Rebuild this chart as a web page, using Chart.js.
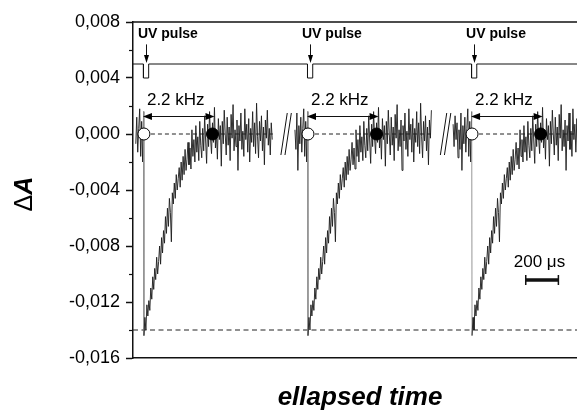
<!DOCTYPE html>
<html>
<head>
<meta charset="utf-8">
<script src="https://cdn.jsdelivr.net/npm/chart.js@4.4.0/dist/chart.umd.min.js"></script>
<style>
  html, body { margin: 0; padding: 0; background: #fff; }
  #wrap { width: 577px; height: 410px; position: relative; }
</style>
</head>
<body>
<div id="wrap"><canvas id="chart"></canvas></div>
<script>
// time in microseconds, absorbance change stored in units of 0.001
const yTickValues = [-0.016, -0.014, -0.012, -0.010, -0.008, -0.006, -0.004, -0.002, 0.000, 0.002, 0.004, 0.006, 0.008]
const xMax = 2720
const dropTimes = [67, 1072, 2077]      // UV pulse hits, one per trace
const traceStart = [-50, -82, -116]     // trace window, relative to the pulse
const traceEnd = [790, 760, 700]
const pulseWidth = 32
const recoveryDelay = 420               // 2.2 kHz marker
const breakTimes = [937, 1914]
const pulseLevel = 0.005
const pulseLow = 0.004
const saturationLevel = -0.014
const scaleBarLength = 200
const step = 6

// noise before the pulse, t = -116 .. -2 us
const preNoise = [0.7, -0.9, 1.3, -0.4, 0.8, -1.7, 0.3, -1.1, 1.5, -2.6, 0.6, -0.7, 1.2, -1.3, 0.4, 1.8, -1.6, 0.9, -2.0, 1.6]
// bleach and recovery after the pulse, t = 0 .. 786 us
const decay = [
  -14.4, -13.1, -14.0, -12.2, -13.0, -11.9, -12.6, -11.0, -11.8, -10.2,
  -11.1, -9.6, -10.4, -8.8, -10.0, -9.1, -8.0, -9.3, -7.4, -8.5,
  -6.9, -7.8, -5.9, -7.1, -5.3, -6.6, -4.6, -5.6, -7.7, -4.2,
  -5.0, -3.5, -4.6, -2.9, -4.0, -3.2, -2.4, -3.8, -2.0, -3.3,
  -1.6, -2.9, -1.1, -2.6, -1.8, -0.6, -2.2, -1.0, -2.5, 0.3,
  -1.6, -0.4, -2.0, 0.6, -1.3, -0.2, -1.9, 0.9, -0.8, -1.7,
  0.4, -1.2, 1.3, -0.5, -2.1, 0.7, -0.9, 1.6, -0.3, -1.4,
  0.8, -0.6, 1.9, -1.0, 0.2, -1.8, 1.1, -0.4, 0.6, -2.3,
  0.9, -0.7, 1.7, 0.0, -1.5, 1.2, -0.8, 0.5, -1.9, 1.4,
  -0.3, 2.1, -1.2, 0.3, -0.9, 1.0, -2.6, 0.6, -0.5, 1.5,
  -1.1, 0.2, -1.6, 1.8, -0.4, 0.7, -1.3, 1.1, -2.0, 0.4,
  -0.6, 1.6, -0.9, 0.8, -1.4, 2.2, -0.2, -1.7, 0.9, -0.5,
  1.3, -1.2, 0.5, -2.2, 1.0, -0.3, 1.7, -0.8, 0.4, -1.5,
  0.8, -0.4
]

const FONT = '"Liberation Sans", Arial, Helvetica, sans-serif'

function tracePoints(k) {
  const t0 = dropTimes[k]
  const pts = []
  preNoise.forEach((v, i) => {
    const t = -2 - (preNoise.length - 1 - i) * step
    if (t >= traceStart[k]) pts.push({ x: t0 + t, y: v / 1000 })
  })
  decay.forEach((v, i) => {
    const t = i * step
    if (t <= traceEnd[k]) pts.push({ x: t0 + t, y: v / 1000 })
  })
  return pts
}

function pulsePoints() {
  const pts = [{ x: 0, y: pulseLevel }]
  dropTimes.forEach(t => {
    const a = t - 3
    const b = a + pulseWidth
    pts.push({ x: a, y: pulseLevel }, { x: a, y: pulseLow }, { x: b, y: pulseLow }, { x: b, y: pulseLevel })
  })
  pts.push({ x: xMax, y: pulseLevel })
  return pts
}

function line(data, opts) {
  return Object.assign({ data, showLine: true, pointRadius: 0, borderColor: '#111', borderWidth: 1, fill: false }, opts)
}

// later entries are drawn on top
const datasets = []
datasets.push(line(pulsePoints(), { order: 9 }))
datasets.push(line([{ x: 0, y: saturationLevel }, { x: xMax, y: saturationLevel }], { borderDash: [5, 3.5], borderColor: '#222', order: 8 }))
dropTimes.forEach((t, k) => {
  datasets.push(line([{ x: t, y: 0 }, { x: t + traceEnd[k], y: 0 }], { borderDash: [4, 3], borderColor: '#222', order: 7 }))
})
dropTimes.forEach((t, k) => {
  datasets.push(line(tracePoints(k), {
    borderColor: '#1c1c1c', borderWidth: 0.9, order: 5,
    segment: { borderColor: c => Math.abs(c.p1.y - c.p0.y) > 100 ? '#8a8a8a' : undefined }
  }))
})
breakTimes.forEach(c => {
  datasets.push(line([{ x: c - 31, y: -0.0015 }, { x: c + 8, y: 0.0015 }], { order: 4 }))
  datasets.push(line([{ x: c - 6, y: -0.0015 }, { x: c + 33, y: 0.0015 }], { order: 4 }))
})
datasets.push({
  data: dropTimes.map(t => ({ x: t, y: 0 })), order: 1,
  pointRadius: 6, pointBackgroundColor: '#fff', pointBorderColor: '#000', pointBorderWidth: 1, showLine: false
})
datasets.push({
  data: dropTimes.map(t => ({ x: t + recoveryDelay, y: 0 })), order: 1,
  pointRadius: 6, pointBackgroundColor: '#000', pointBorderColor: '#000', pointBorderWidth: 1, showLine: false
})

const isMajor = v => Math.round(v / 0.002) % 2 === 0
const fmt = v => (Math.abs(v) < 1e-9 ? 0 : v).toFixed(3).replace('.', ',')

function arrowHead(ctx, x, y, dx, dy, len, half) {
  // tip at (x,y), pointing along (dx,dy)
  const bx = x - dx * len, by = y - dy * len
  ctx.beginPath()
  ctx.moveTo(x, y)
  ctx.lineTo(bx - dy * half, by + dx * half)
  ctx.lineTo(bx + dy * half, by - dx * half)
  ctx.closePath()
  ctx.fill()
}

const decorations = {
  id: 'decorations',
  afterDraw(chart) {
    const { ctx, chartArea: a, scales: { x, y } } = chart
    const X = v => x.getPixelForValue(v)
    const Y = v => y.getPixelForValue(v)
    ctx.save()
    ctx.fillStyle = '#000'
    ctx.strokeStyle = '#111'

    // top frame
    ctx.lineWidth = 1.5
    ctx.beginPath(); ctx.moveTo(a.left, a.top); ctx.lineTo(a.right, a.top); ctx.stroke()

    // minor ticks
    ctx.lineWidth = 1.2
    yTickValues.filter(v => !isMajor(v)).forEach(v => {
      const py = Math.round(Y(v)) + 0.5
      ctx.beginPath(); ctx.moveTo(a.left - 4, py); ctx.lineTo(a.left, py); ctx.stroke()
    })

    ctx.lineWidth = 1
    dropTimes.forEach(t => {
      const px = X(t)
      // UV pulse label + arrow
      ctx.font = 'bold 14px ' + FONT
      ctx.textAlign = 'left'
      ctx.textBaseline = 'alphabetic'
      ctx.fillText('UV pulse', px - 6, Y(0.00686))
      const ax = Math.round(X(t + 10)) + 0.5
      ctx.beginPath(); ctx.moveTo(ax, Y(0.0064)); ctx.lineTo(ax, Y(0.0053)); ctx.stroke()
      arrowHead(ctx, ax, Y(0.00507), 0, 1, 8, 2.5)

      // 2.2 kHz label + double arrow
      ctx.font = '17px ' + FONT
      ctx.fillText('2.2 kHz', px + 3, Y(0.00207))
      const ay = Math.round(Y(0.00129)) + 0.5
      const x1 = px - 1, x2 = X(t + recoveryDelay) + 2
      ctx.beginPath(); ctx.moveTo(x1 + 6, ay); ctx.lineTo(x2 - 6, ay); ctx.stroke()
      arrowHead(ctx, x1, ay, -1, 0, 9, 3.5)
      arrowHead(ctx, x2, ay, 1, 0, 9, 3.5)
    })

    // scale bar
    const sb0 = X(2406), sb1 = X(2406 + scaleBarLength), sby = Y(-0.01043)
    ctx.font = '17px ' + FONT
    ctx.fillText('200 \u03bcs', sb0 - 12, Y(-0.0095))
    ctx.lineWidth = 3.5
    ctx.beginPath(); ctx.moveTo(sb0, sby); ctx.lineTo(sb1, sby); ctx.stroke()
    ctx.lineWidth = 1.5
    ctx.beginPath()
    ctx.moveTo(sb0, sby - 5); ctx.lineTo(sb0, sby + 5)
    ctx.moveTo(sb1, sby - 5); ctx.lineTo(sb1, sby + 5)
    ctx.stroke()

    // axis titles
    ctx.font = 'bold italic 26px ' + FONT
    ctx.textAlign = 'center'
    ctx.fillText('ellapsed time', 360, 405)

    ctx.save()
    ctx.translate(32, 194)
    ctx.rotate(-Math.PI / 2)
    ctx.textAlign = 'left'
    ctx.font = '25px ' + FONT
    const dW = ctx.measureText('\u0394').width
    ctx.font = 'bold italic 25px ' + FONT
    const aW = ctx.measureText('A').width
    const start = -(dW + aW) / 2
    ctx.font = '25px ' + FONT
    ctx.fillText('\u0394', start, 0)
    ctx.font = 'bold italic 25px ' + FONT
    ctx.fillText('A', start + dW, 0)
    ctx.restore()

    ctx.restore()
  }
}

new Chart(document.getElementById('chart'), {
  type: 'scatter',
  data: { datasets },
  options: {
    responsive: true,
    maintainAspectRatio: false,
    animation: false,
    devicePixelRatio: 1,
    layout: { padding: { top: 22, left: 0, right: 0, bottom: 0 }, autoPadding: false },
    plugins: { legend: { display: false }, tooltip: { enabled: false } },
    elements: { line: { tension: 0 } },
    scales: {
      x: {
        type: 'linear', min: 0, max: xMax,
        afterFit: s => { s.height = 52 },
        ticks: { display: false },
        grid: { display: true, drawOnChartArea: false, drawTicks: false },
        border: { display: true, color: '#111', width: 1.5 }
      },
      y: {
        min: -0.016, max: 0.008,
        afterFit: s => { s.width = 133 },
        afterBuildTicks: s => { s.ticks = yTickValues.map(v => ({ value: v })) },
        ticks: {
          color: '#000', padding: 6,
          font: { size: 18, family: FONT },
          callback: v => isMajor(v) ? fmt(v) : ''
        },
        grid: {
          drawOnChartArea: false, tickLength: 7, tickWidth: 1.5,
          tickColor: c => (c.tick && isMajor(c.tick.value)) ? '#111' : 'rgba(0,0,0,0)'
        },
        border: { display: true, color: '#111', width: 1.5 }
      }
    }
  },
  plugins: [decorations]
})
</script>
</body>
</html>
